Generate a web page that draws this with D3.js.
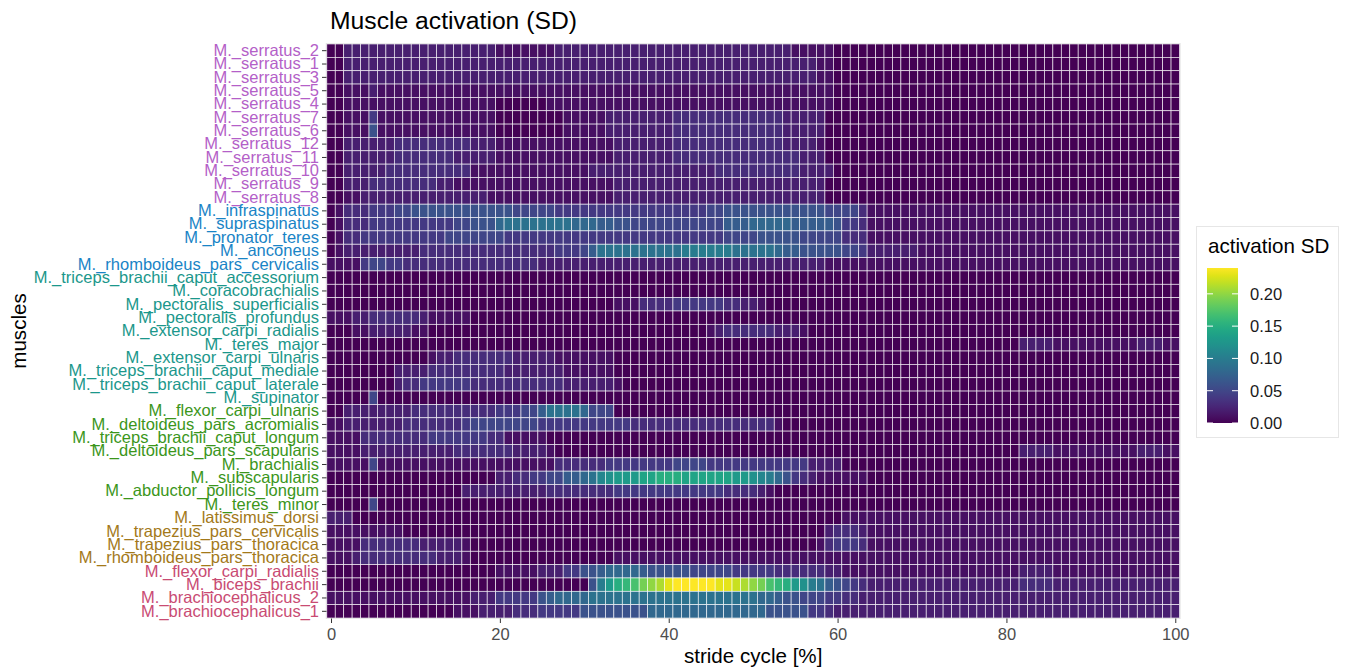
<!DOCTYPE html>
<html>
<head>
<meta charset="utf-8">
<script src="https://cdn.jsdelivr.net/npm/d3@7"></script>
<style>
  body { margin: 0; background: #ffffff; }
  svg text { font-family: "Liberation Sans", Arial, sans-serif; }
</style>
</head>
<body>
<script>

// muscles, top to bottom
let muscles = [
  "M._serratus_2", "M._serratus_1", "M._serratus_3", "M._serratus_5", "M._serratus_4",
  "M._serratus_7", "M._serratus_6", "M._serratus_12", "M._serratus_11", "M._serratus_10",
  "M._serratus_9", "M._serratus_8",
  "M._infraspinatus", "M._supraspinatus", "M._pronator_teres", "M._anconeus",
  "M._rhomboideus_pars_cervicalis",
  "M._triceps_brachii_caput_accessorium", "M._coracobrachialis", "M._pectoralis_superficialis",
  "M._pectoralis_profundus", "M._extensor_carpi_radialis", "M._teres_major",
  "M._extensor_carpi_ulnaris", "M._triceps_brachii_caput_mediale",
  "M._triceps_brachii_caput_laterale", "M._supinator",
  "M._flexor_carpi_ulnaris", "M._deltoideus_pars_acromialis", "M._triceps_brachii_caput_longum",
  "M._deltoideus_pars_scapularis", "M._brachialis", "M._subscapularis",
  "M._abductor_pollicis_longum", "M._teres_minor",
  "M._latissimus_dorsi", "M._trapezius_pars_cervicalis", "M._trapezius_pars_thoracica",
  "M._rhomboideus_pars_thoracica",
  "M._flexor_carpi_radialis", "M._biceps_brachii", "M._brachiocephalicus_2", "M._brachiocephalicus_1"
]

// colour group of each label
let muscleGroup = [
  0,0,0,0,0,0,0,0,0,0,0,0,
  1,1,1,1,1,
  2,2,2,2,2,2,2,2,2,2,
  3,3,3,3,3,3,3,3,
  4,4,4,4,
  5,5,5,5
]
let groupColors = ["#b45fc8", "#1984c6", "#1b978b", "#3b961b", "#a3791a", "#c94b73"]

// stride cycle positions (0..100 %)
let stride = d3.range(0, 101)
let xTicks = [0, 20, 40, 60, 80, 100]
let legendTicks = [0, 0.05, 0.10, 0.15, 0.20]

// activation SD per muscle, one character per stride %, value in hundredths (0-9, a=10 ... o=24)
let sdRows = [
  "0022222222 2222222222 1111111222 2222222222 2222222222 2222211111 0000000000 0000000000 0000000000 0000000000 0",
  "0022222222 2222222222 2222222222 2222222222 2222222222 2222222211 0000000000 0000000000 0000000000 0000000000 0",
  "0022222222 2222222222 2222222222 2222222222 2222222222 2222222211 0000000000 0000000000 0000000000 0000000000 0",
  "0011121111 1111111111 1111111111 1111111111 1111111111 1111111111 0000000000 0000000000 0000000000 0000000000 0",
  "0011111111 1111111111 0000001111 1111111111 1111111111 1111111111 0000000000 0000000000 0000000000 0000000000 0",
  "0011141111 1111111111 0000000011 1112222222 2333333333 3333222220 0000000000 0000000000 0000000000 0000000000 0",
  "0011161111 1111111111 0000000011 1112222222 2333333333 3333222220 0000000000 0000000000 0000000000 0000000000 0",
  "0022222233 3333333222 1111111111 1111222222 2333333333 3333222210 0000000000 0000000000 0000000000 0000000000 0",
  "0022222233 3333322222 1111111111 1111222222 2333333333 3333332220 0000000000 0000000000 0000000000 0000000000 0",
  "0022222333 3333333111 1111111111 1222222222 2222223333 3333332222 0000000000 0000000000 0000000000 0000000000 0",
  "0022233333 3332211111 1111111111 1111222222 2222222222 2222222220 0000000000 0000000000 0000000000 0000000000 0",
  "0011222222 2222222221 1111111111 1111222222 2222222222 2222222220 0000000000 0000000000 0000000000 0000000000 0",
  "0133344455 6666666666 6655555444 4444444444 4444455666 6666666665 5553111111 1111111111 1111111111 1111111111 1",
  "0133344444 4444455666 8999999998 8877665555 5555555777 8888877777 6443111111 1111111111 1111111111 1111111111 1",
  "0133444444 4444555555 5444444444 4444444444 4444444555 5666665555 5333111111 1111111111 1111111111 1111111111 1",
  "0122222222 2333333333 3333333444 5799999999 99aaaaaa99 9998776666 6554222222 1111111111 1111111111 1111111111 1",
  "1111455443 3333333333 3333322222 2222222222 2222222222 2222222221 1111111111 1111111111 1111111111 1111111111 1",
  "0000000000 0000000000 0000000000 0000000000 0000000000 0000000000 0000000000 0000000000 0000000000 0000000000 0",
  "0000000000 0000000000 0000000000 0000000000 0000000000 0000000000 0000000000 0000000000 0000000000 0000000000 0",
  "0000000000 0000000000 0000000000 0000111333 3444444332 2100000000 0000000000 0000000000 0000000000 0000000000 0",
  "1112233333 3211111000 0000000000 0000000000 0000000000 0000000000 0000000000 0000000000 0000000000 0000000000 0",
  "0001122222 1100000000 0000000000 0000000000 0000012333 3332221000 0000000000 0000000000 0000000000 0000000000 0",
  "0000000000 0000000000 0000000000 0000000000 0000000000 0000000000 0000000000 0000000000 0022221111 1111112221 1",
  "0000000000 0012233333 3322222111 1111000000 0000000000 0000000000 0000000000 0000000000 0000000000 0000000000 0",
  "0000000022 2233333333 3222222211 1111000000 0000000000 0000000000 0000000000 0000000000 0000000000 0000000000 0",
  "0000000023 3444444333 3333333322 2222100000 0000000000 0000000000 0000000000 0000000000 0000000000 0000000000 0",
  "0000050000 0000000000 0000000000 0000000000 0000000000 0000000000 0000000000 0000000000 0000000000 0000000000 0",
  "0022222222 3333333333 4445579999 8555000000 0000000000 0000000000 0000000000 0000000000 0000000000 0000000000 0",
  "1122222223 3333334555 5555544444 4444443333 3333333333 3331000000 0000000000 0000000000 0000000000 0000000000 0",
  "1111333333 3344444443 3111110000 0000000000 0000000000 0000000000 0000000000 0000000000 0000000000 0000000000 0",
  "1111222222 2222233333 3322221000 0000000000 0000000000 0000000000 0000000000 0000000000 0022221111 1111112221 1",
  "1111151111 1111111111 1111111333 3334444444 4555544444 4444444222 2000000000 0000000000 0000000000 0000000000 0",
  "0000000000 0000000000 2233445577 89bcdddeef ffeeeeeedd cba8643211 1111000000 0000000000 0000000000 0000000000 0",
  "0000000000 0000002222 2222223333 3333444444 4444444333 3210000000 0000000000 0000000000 0000000000 0000000000 0",
  "0000050000 0000000000 0000000000 0000000000 0000000000 0000000000 0000000000 0000000000 0000000000 0000000000 0",
  "2220000000 0000000000 0000000000 0000000000 0000000000 0000000000 0111111111 1111111111 1111111111 1111111111 1",
  "1111111110 0000000000 0000000000 0000000000 0000000000 0000000002 3332111111 1111111111 1111111111 1111111111 1",
  "1111333333 3222221000 0000000000 0000000000 0000000000 0000000013 4443111111 1111111111 1111111111 1111111111 1",
  "1112333333 3332221000 0000000000 0000111111 1111111111 1111111111 1111111111 1111111111 1111111111 1111111111 1",
  "0000000000 0000000000 1111122244 6678888766 6665555544 4443333332 2111111111 1111111111 1122221111 1111111111 1",
  "0000000000 0000000000 0000000000 06adfghjkl nooooonnml kjhgfdca97 6543222222 2222222222 2233332222 2222222222 2",
  "1111111111 1111111222 4444467888 8999999999 9999999999 9887665554 4332222222 2222222222 2222222222 2222222222 2",
  "0000000000 0000011122 2233344444 6666666688 8888888888 8866666443 2222222222 2222222222 2222222222 2222222222 2"
]

let cells = []
muscles.forEach((m, i) => {
    sdRows[i].replace(/ /g, "").split("").forEach((c, j) => {
        cells.push({muscle: m, group: muscleGroup[i], x: stride[j], v: parseInt(c, 36) / 100})
    })
})

let W = 1347
let H = 669

let svg = d3.select("body")
            .append("svg")
            .attr("width", W)
            .attr("height", H)

let x = d3.scaleLinear()
          .domain([-0.5, 100.5])
          .range([326.8, 1179.5])

let y = d3.scaleBand()
          .domain(muscles)
          .range([44, 618])
          .padding(0)

let color = d3.scaleSequential(d3.interpolateViridis)
              .domain(d3.extent(cells, d => d.v))

// thin frame behind tiles
svg.append("rect")
    .attr("x", x(-0.5) - 0.5)
    .attr("y", 43.5)
    .attr("width", x(100.5) - x(-0.5) + 1)
    .attr("height", 575)
    .attr("fill", "none")
    .attr("stroke", "#dedede")

svg.append("g")
    .selectAll("rect")
    .data(cells)
    .enter()
    .append("rect")
        .attr("x", d => x(d.x - 0.5))
        .attr("y", d => y(d.muscle))
        .attr("width", x(1) - x(0))
        .attr("height", y.bandwidth())
        .attr("fill", d => color(d.v))
        .attr("stroke", "#ffffff")
        .attr("stroke-opacity", 0.85)
        .attr("stroke-width", 0.7)

// y axis
let yAxis = svg.append("g")
               .attr("transform", "translate(326.5,0)")
               .call(d3.axisLeft(y).tickSize(4.5).tickPadding(3))
yAxis.select(".domain").remove()
yAxis.selectAll(".tick line").attr("stroke", "#333333")
yAxis.selectAll(".tick text")
    .attr("font-size", "16.5px")
    .attr("font-family", "Liberation Sans, Arial, sans-serif")
    .attr("fill", (d, i) => groupColors[muscleGroup[i]])

// x axis
let xAxis = svg.append("g")
               .attr("transform", "translate(0,618.5)")
               .call(d3.axisBottom(x).tickValues(xTicks).tickSize(4.5).tickPadding(5))
xAxis.select(".domain").remove()
xAxis.selectAll(".tick line").attr("stroke", "#333333")
xAxis.selectAll(".tick text")
    .attr("font-size", "16.5px")
    .attr("font-family", "Liberation Sans, Arial, sans-serif")
    .attr("fill", "#4d4d4d")

// titles
svg.append("text")
    .attr("x", 330)
    .attr("y", 29.3)
    .attr("font-size", "24.7px")
    .attr("fill", "#000000")
    .text("Muscle activation (SD)")

svg.append("text")
    .attr("x", (x(-0.5) + x(100.5)) / 2)
    .attr("y", 663)
    .attr("text-anchor", "middle")
    .attr("font-size", "20.6px")
    .attr("fill", "#000000")
    .text("stride cycle [%]")

svg.append("text")
    .attr("transform", "translate(26,331) rotate(-90)")
    .attr("text-anchor", "middle")
    .attr("font-size", "20.6px")
    .attr("fill", "#000000")
    .text("muscles")

// legend
let legend = svg.append("g")

legend.append("rect")
    .attr("x", 1196.5)
    .attr("y", 226.5)
    .attr("width", 142)
    .attr("height", 211)
    .attr("fill", "#ffffff")
    .attr("stroke", "#e6e6e6")

legend.append("text")
    .attr("x", 1208)
    .attr("y", 253)
    .attr("font-size", "20.6px")
    .attr("fill", "#000000")
    .text("activation SD")

let grad = svg.append("defs")
              .append("linearGradient")
              .attr("id", "vir")
              .attr("x1", 0).attr("x2", 0)
              .attr("y1", 1).attr("y2", 0)

grad.selectAll("stop")
    .data(d3.range(0, 1.0001, 0.05))
    .enter()
    .append("stop")
        .attr("offset", d => d)
        .attr("stop-color", d => d3.interpolateViridis(d))

let barTop = 268
let barBottom = 423
let lscale = d3.scaleLinear()
               .domain(color.domain())
               .range([barBottom, barTop])

legend.append("rect")
    .attr("x", 1207)
    .attr("y", barTop)
    .attr("width", 31)
    .attr("height", barBottom - barTop)
    .attr("fill", "url(#vir)")

let lt = legend.selectAll(".lt")
               .data(legendTicks)
               .enter()
               .append("g")
               .attr("class", "lt")

lt.append("line")
    .attr("x1", 1207).attr("x2", 1213)
    .attr("y1", d => lscale(d)).attr("y2", d => lscale(d))
    .attr("stroke", "#ffffff")
    .attr("stroke-width", 1)

lt.append("line")
    .attr("x1", 1232).attr("x2", 1238)
    .attr("y1", d => lscale(d)).attr("y2", d => lscale(d))
    .attr("stroke", "#ffffff")
    .attr("stroke-width", 1)

lt.append("text")
    .attr("x", 1250)
    .attr("y", d => lscale(d))
    .attr("dy", "0.36em")
    .attr("font-size", "16.5px")
    .attr("fill", "#1a1a1a")
    .text(d => d3.format(".2f")(d))

</script>
</body>
</html>
